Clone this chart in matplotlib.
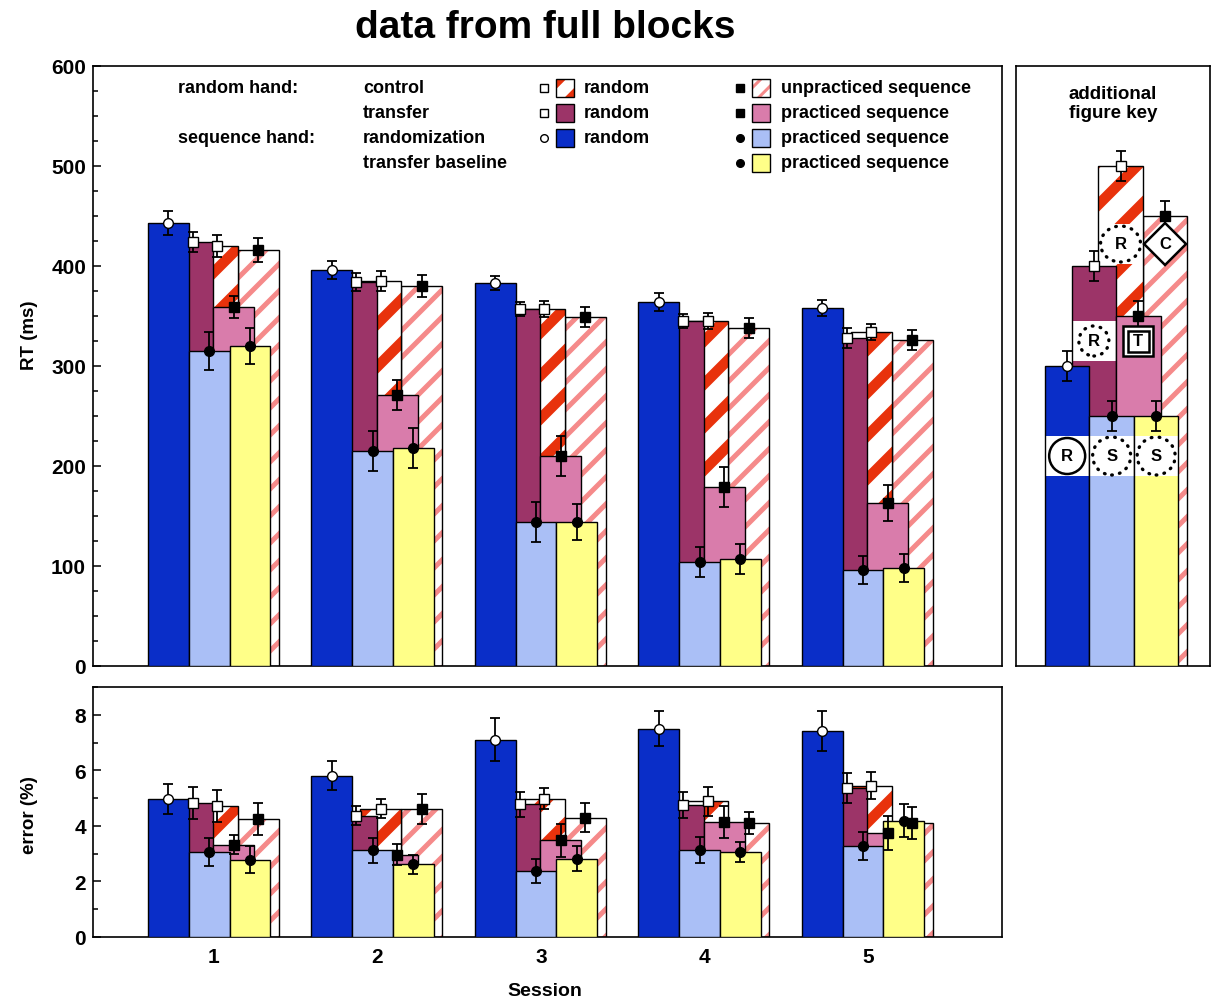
import numpy as np
import matplotlib
matplotlib.use('Agg')
import matplotlib.pyplot as plt
from matplotlib.patches import Rectangle, Ellipse, Polygon
from matplotlib.lines import Line2D
from matplotlib.ticker import MultipleLocator

plt.rcParams['font.family'] = ['Liberation Sans', 'DejaVu Sans']
plt.rcParams['font.weight'] = 'bold'

sessions = [1, 2, 3, 4, 5]

# RT (ms), mean and error bar per session
rt_rand_random = [443, 396, 383, 364, 358]
rt_rand_random_err = [12, 9, 7, 9, 8]
rt_trans_random = [424, 384, 357, 345, 328]
rt_trans_random_err = [10, 9, 7, 7, 10]
rt_ctrl_random = [420, 385, 357, 345, 334]
rt_ctrl_random_err = [11, 10, 8, 8, 8]
rt_ctrl_unprac = [416, 380, 349, 338, 326]
rt_ctrl_unprac_err = [12, 11, 10, 10, 10]
rt_trans_prac = [359, 271, 210, 179, 163]
rt_trans_prac_err = [11, 15, 20, 20, 18]
rt_rand_prac = [315, 215, 144, 104, 96]
rt_rand_prac_err = [19, 20, 20, 15, 14]
rt_base_prac = [320, 218, 144, 107, 98]
rt_base_prac_err = [18, 20, 18, 15, 14]

# error rate (%)
er_rand_random = [4.97, 5.80, 7.10, 7.50, 7.42]
er_rand_random_err = [0.54, 0.52, 0.77, 0.63, 0.72]
er_trans_random = [4.83, 4.36, 4.78, 4.75, 5.38]
er_trans_random_err = [0.58, 0.34, 0.45, 0.47, 0.54]
er_ctrl_random = [4.73, 4.62, 4.98, 4.88, 5.45]
er_ctrl_random_err = [0.58, 0.34, 0.38, 0.52, 0.49]
er_ctrl_unprac = [4.24, 4.61, 4.29, 4.11, 4.11]
er_ctrl_unprac_err = [0.58, 0.55, 0.52, 0.40, 0.58]
er_trans_prac = [3.32, 2.97, 3.48, 4.14, 3.75]
er_trans_prac_err = [0.34, 0.37, 0.60, 0.56, 0.61]
er_rand_prac = [3.05, 3.12, 2.38, 3.13, 3.28]
er_rand_prac_err = [0.50, 0.45, 0.42, 0.47, 0.50]
er_base_prac = [2.78, 2.62, 2.81, 3.06, 4.19]
er_base_prac_err = [0.48, 0.34, 0.45, 0.36, 0.60]

# additional figure key (schematic bars), same order as the series below
key_heights = [450, 500, 400, 350, 300, 250, 250]
key_errs = [15, 15, 15, 15, 15, 15, 15]

legend_rows = ['random hand:', '', 'sequence hand:', '']
legend_conds = ['control', 'transfer', 'randomization', 'transfer baseline']
legend_left = ['random', 'random', 'random']
legend_right = ['unpracticed sequence', 'practiced sequence',
                'practiced sequence', 'practiced sequence']

BLUE = '#0a2ec8'
LBLUE = '#aabff6'
MAROON = '#9c3468'
PINK = '#d97cab'
YELLOW = '#ffff88'
RED = '#e8320c'
SALMON = '#f58a8a'

# drawing order, back to front
SERIES = [
    dict(off=2.2, face='white', stripe=(SALMON, 27, 3.6), marker='s', mfc='k'),   # control, unpracticed
    dict(off=1.2, face='white', stripe=(RED, 43, 7.6), marker='s', mfc='white'),  # control, random
    dict(off=0.6, face=MAROON, marker='s', mfc='white'),                          # transfer, random
    dict(off=1.6, face=PINK, marker='s', mfc='k'),                                # transfer, practiced
    dict(off=0.0, face=BLUE, marker='o', mfc='white'),                            # randomization, random
    dict(off=1.0, face=LBLUE, marker='o', mfc='k'),                               # randomization, practiced
    dict(off=2.0, face=YELLOW, marker='o', mfc='k'),                              # transfer baseline
]

rt_means = [rt_ctrl_unprac, rt_ctrl_random, rt_trans_random, rt_trans_prac,
            rt_rand_random, rt_rand_prac, rt_base_prac]
rt_errs = [rt_ctrl_unprac_err, rt_ctrl_random_err, rt_trans_random_err, rt_trans_prac_err,
           rt_rand_random_err, rt_rand_prac_err, rt_base_prac_err]
er_means = [er_ctrl_unprac, er_ctrl_random, er_trans_random, er_trans_prac,
            er_rand_random, er_rand_prac, er_base_prac]
er_errs = [er_ctrl_unprac_err, er_ctrl_random_err, er_trans_random_err, er_trans_prac_err,
           er_rand_random_err, er_rand_prac_err, er_base_prac_err]


def add_stripes(ax, rect, color, period, lw, trans):
    # 45 degree stripes (in pixels), clipped to the rectangle
    x0, y0 = rect.get_x(), rect.get_y()
    x1, y1 = x0 + rect.get_width(), y0 + rect.get_height()
    (px0, py0), (px1, py1) = trans.transform([(x0, y0), (x1, y1)])
    inv = trans.inverted()
    k0 = int(np.floor((py0 - px1) / period)) - 1
    k1 = int(np.ceil((py1 - px0) / period)) + 1
    for k in range(k0, k1 + 1):
        xs = np.array([px0 - 30, px1 + 30])
        pts = inv.transform(np.column_stack([xs, xs + k * period]))
        ln = Line2D(pts[:, 0], pts[:, 1], color=color, lw=lw, transform=trans,
                    solid_capstyle='butt', zorder=rect.get_zorder() + 0.1)
        ax.add_line(ln)
        # add_line resets the clip to the axes patch, so clip afterwards
        ln.set_clip_path(rect)


def draw_bars(ax, centers, width, means, errs, cap=3.6, ms=7):
    centers = np.asarray(centers, float)
    for z, (st, m, e) in enumerate(zip(SERIES, means, errs)):
        x = centers + st['off'] * width
        zo = 2 + z
        bars = ax.bar(x, m, width, color=st['face'], edgecolor='none', linewidth=0, zorder=zo)
        if 'stripe' in st:
            col, per, lw = st['stripe']
            for p in bars:
                add_stripes(ax, p, col, per, lw, ax.transData)
        ax.bar(x, m, width, fill=False, edgecolor='k', linewidth=1.0, zorder=zo + 0.5)
        ax.errorbar(x, m, yerr=e, fmt='none', ecolor='k', elinewidth=1.3,
                    capsize=cap, capthick=1.3, zorder=20)
        ax.plot(x, m, ls='none', marker=st['marker'], ms=ms, mfc=st['mfc'],
                mec='k', mew=1.0, zorder=21)


W, H = 1216, 1003
fig = plt.figure(figsize=(W / 100, H / 100), dpi=100, facecolor='white')


def box(l, t, r, b):
    return [l / W, 1 - b / H, (r - l) / W, (b - t) / H]


ax_rt = fig.add_axes(box(93, 67, 1002, 667))
ax_er = fig.add_axes(box(93, 688, 1002, 938))
ax_key = fig.add_axes(box(1016, 67, 1210, 667))

BAR_W = 0.25
FIRST = -0.28
for ax in (ax_rt, ax_er):
    ax.set_xlim(0.26, 5.82)
ax_rt.set_ylim(0, 600)
ax_er.set_ylim(0, 9)
ax_key.set_xlim(-1.15, 3.21)
ax_key.set_ylim(0, 600)

group_x = np.array(sessions) + FIRST
draw_bars(ax_rt, group_x, BAR_W, rt_means, rt_errs)
draw_bars(ax_er, group_x, BAR_W, er_means, er_errs)

for ax in (ax_rt, ax_er, ax_key):
    for sp in ax.spines.values():
        sp.set_linewidth(1.2)
    ax.tick_params(direction='in', width=1.1, length=6, labelsize=15, pad=5,
                   top=False, right=False)
    ax.tick_params(which='minor', direction='in', width=1.1, length=3.5,
                   top=False, right=False)

ax_rt.set_xticks(sessions)
ax_rt.set_xticklabels([])
ax_rt.yaxis.set_major_locator(MultipleLocator(100))
ax_rt.yaxis.set_minor_locator(MultipleLocator(25))
ax_er.set_xticks(sessions)
ax_er.set_xticklabels([str(s) for s in sessions])
ax_er.tick_params(axis='x', pad=7)
ax_er.yaxis.set_major_locator(MultipleLocator(2))
ax_er.yaxis.set_minor_locator(MultipleLocator(1))
ax_key.set_xticks([])
ax_key.set_yticks([])

fig.text(545 / W, 1 - 28 / H, 'data from full blocks', ha='center', va='center',
         fontsize=28, fontweight='bold')
fig.text(30 / W, 1 - 335 / H, 'RT (ms)', rotation=90, ha='center', va='center', fontsize=13.5)
fig.text(30 / W, 1 - 815 / H, 'error (%)', rotation=90, ha='center', va='center', fontsize=13.5)
fig.text(545 / W, 1 - 992 / H, 'Session', ha='center', va='center', fontsize=14)

# legend block inside the RT panel
def fx(px):
    return (px - 93) / 909


def fy(py):
    return (667 - py) / 600


def swatch(ax, xc_px, yc_px, st):
    w, h = 18 / 909, 18 / 600
    r = Rectangle((fx(xc_px) - w / 2, fy(yc_px) - h / 2), w, h, transform=ax.transAxes,
                  facecolor=st['face'], edgecolor='none', zorder=30)
    ax.add_patch(r)
    if 'stripe' in st:
        col, per, lw = st['stripe']
        add_stripes(ax, r, col, per * 0.6, lw * 0.6, ax.transAxes)
    ax.add_patch(Rectangle((fx(xc_px) - w / 2, fy(yc_px) - h / 2), w, h, transform=ax.transAxes,
                           fill=False, edgecolor='k', linewidth=1.0, zorder=31))
    ax.plot([fx(xc_px - 21)], [fy(yc_px)], transform=ax.transAxes, ls='none',
            marker=st['marker'], ms=5.5, mfc=st['mfc'], mec='k', mew=1.0, zorder=31,
            clip_on=False)


rows_px = [89, 114, 139, 164]
for i, y in enumerate(rows_px):
    if legend_rows[i]:
        ax_rt.text(fx(178), fy(y), legend_rows[i], transform=ax_rt.transAxes,
                   ha='left', va='center', fontsize=13)
    ax_rt.text(fx(363), fy(y), legend_conds[i], transform=ax_rt.transAxes,
               ha='left', va='center', fontsize=13)
left_series = [SERIES[1], SERIES[2], SERIES[4]]
for i, st in enumerate(left_series):
    swatch(ax_rt, 565, rows_px[i], st)
    ax_rt.text(fx(584), fy(rows_px[i]), legend_left[i], transform=ax_rt.transAxes,
               ha='left', va='center', fontsize=13)
right_series = [SERIES[0], SERIES[3], SERIES[5], SERIES[6]]
for i, st in enumerate(right_series):
    swatch(ax_rt, 761, rows_px[i], st)
    ax_rt.text(fx(781), fy(rows_px[i]), legend_right[i], transform=ax_rt.transAxes,
               ha='left', va='center', fontsize=13)

# additional figure key
draw_bars(ax_key, [0.0], 1.0, [[v] for v in key_heights], [[e] for e in key_errs])
kx = ax_key.transData.transform((1, 0))[0] - ax_key.transData.transform((0, 0))[0]


def band(x, y0, y1, z):
    ax_key.add_patch(Rectangle((x - 0.5, y0), 1.0, y1 - y0, facecolor='white',
                               edgecolor='none', zorder=z))


def ring(x, y, wpx, hpx, dotted=True):
    ls = (0, (0.2, 2.2)) if dotted else '-'
    lw = 2.4 if dotted else 1.8
    e = Ellipse((x, y), wpx / kx, hpx, facecolor='white', edgecolor='k',
                linestyle=ls, linewidth=lw, zorder=25)
    e.set_capstyle('round')
    ax_key.add_patch(e)


def letter(x, y, s):
    ax_key.text(x, y, s, ha='center', va='center', fontsize=12, zorder=27)


offs = {name: st['off'] for name, st in zip(
    ['cu', 'cr', 'tr', 'tp', 'rr', 'rp', 'bp'], SERIES)}
band(offs['rr'], 190, 230, 6.3)
band(offs['rp'], 190, 230, 7.3)
band(offs['bp'], 190, 230, 8.3)
band(offs['tr'], 305, 345, 4.3)
band(offs['cr'], 402, 442, 3.3)

ring(offs['rr'], 210, 36, 36, dotted=False)
letter(offs['rr'], 210, 'R')
ring(offs['rp'], 210, 38, 38)
letter(offs['rp'], 210, 'S')
ring(offs['bp'], 210, 38, 38)
letter(offs['bp'], 210, 'S')
ring(offs['tr'], 325, 30, 30)
letter(offs['tr'], 325, 'R')
ring(offs['cr'], 422, 40, 36)
letter(offs['cr'], 422, 'R')

# double square around T
for s_px, lw in ((30, 1.8), (21, 1.8)):
    ax_key.add_patch(Rectangle((offs['tp'] - s_px / 2 / kx, 325 - s_px / 2), s_px / kx, s_px,
                               facecolor='white', edgecolor='k', linewidth=lw, zorder=25))
letter(offs['tp'], 325, 'T')

# diamond around C
d = 21
ax_key.add_patch(Polygon([(offs['cu'] - d / kx, 422), (offs['cu'], 422 + d),
                          (offs['cu'] + d / kx, 422), (offs['cu'], 422 - d)],
                         closed=True, facecolor='white', edgecolor='k', linewidth=1.8,
                         zorder=25))
letter(offs['cu'], 422, 'C')

ax_key.text(0.5, fy(104), 'additional\nfigure key', transform=ax_key.transAxes,
            ha='center', va='center', fontsize=13.5, linespacing=1.15)

fig.savefig('out.png', dpi=100, facecolor='white')
